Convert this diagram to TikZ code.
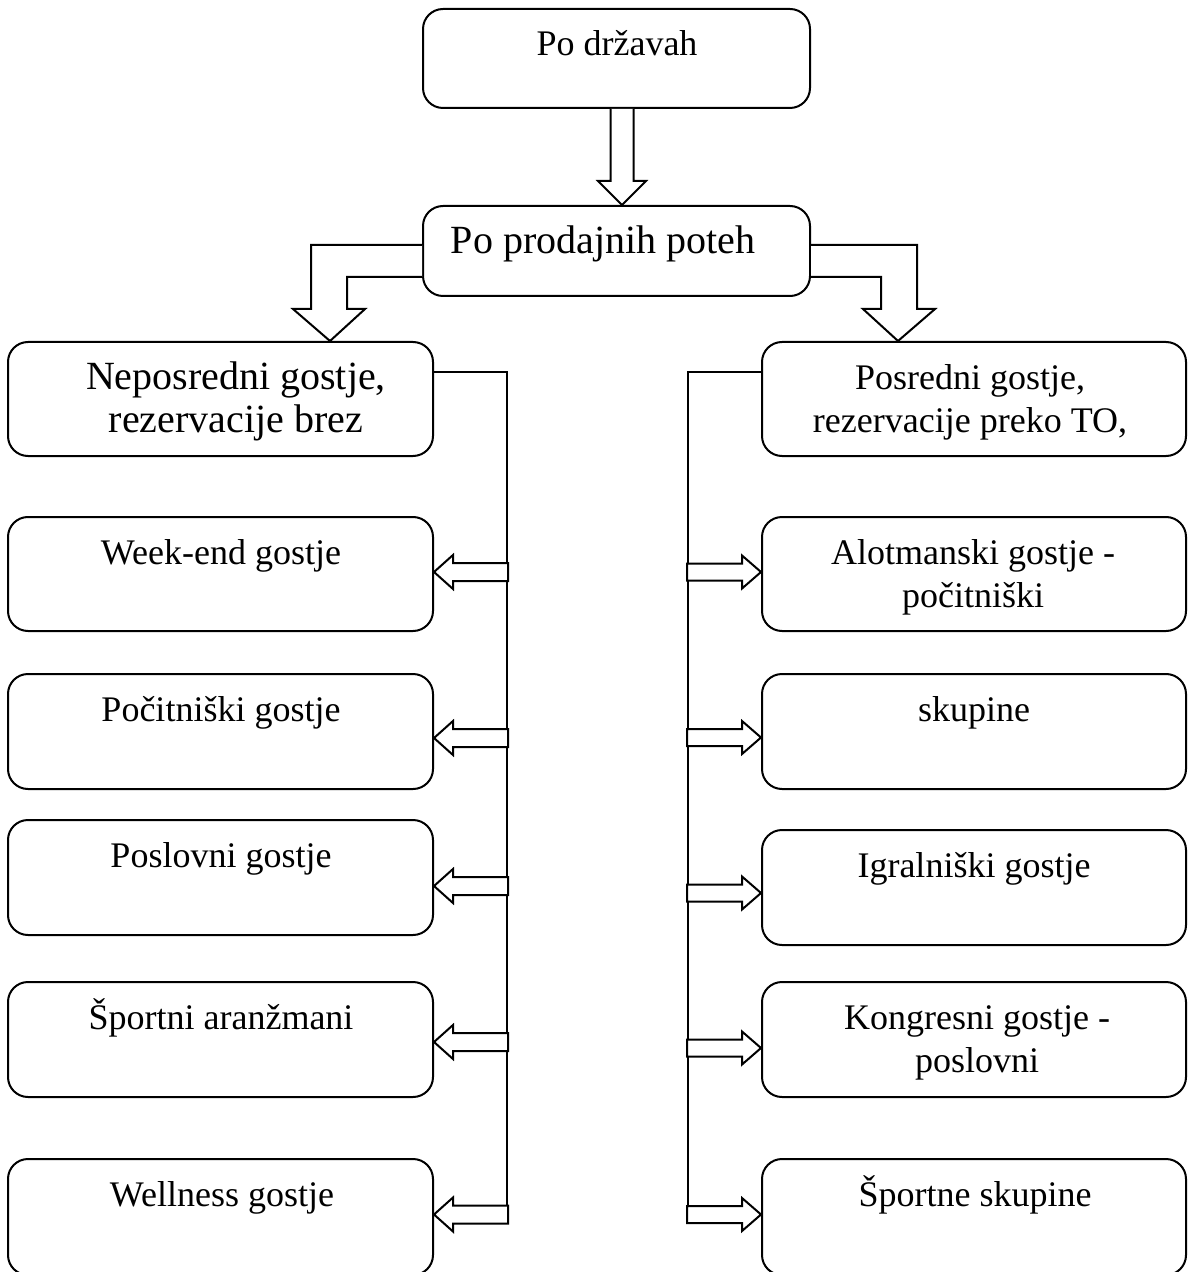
\documentclass[tikz,border=0pt]{standalone}
\usepackage{fontspec}
\setmainfont{Liberation Serif}
\usetikzlibrary{calc}
% first-line strut: the text node's north edge lies 18pt above the first baseline
\newcommand\fl{\rule{0pt}{18pt}}
\begin{document}
\begin{tikzpicture}[x=0.5pt,y=-0.5pt,
  box/.style={draw, line width=1pt, rounded corners=10pt, inner sep=0pt},
  lbox/.style={box, minimum width=212.5pt},
  rbox/.style={box, minimum width=212pt},
  lbl/.style={anchor=north, inner sep=0pt, align=center,
              font=\fontsize{18}{21.5}\selectfont},
  biglbl/.style={lbl, font=\fontsize{20}{21.5}\selectfont},
  barrow/.style={draw, line width=1pt, fill=white, line join=miter},
  wire/.style={draw, line width=1pt}]
\useasboundingbox (0,0) rectangle (1188,1272);
\clip (0,0) rectangle (1188,1272);

% top level boxes
\node[box, minimum width=193.5pt, minimum height=49.5pt] (t0) at (616.5,58.5) {};
\node[box, minimum width=193.5pt, minimum height=45pt]   (t1) at (616.5,251) {};
\node[lbl]    (t0x) at (617,19) {\fl Po državah};
\node[biglbl] (t1x) at (603,217) {\fl Po prodajnih poteh};

% left column
\node[lbox, minimum height=57pt]   (l1) at (220.5,399)  {};
\node[lbox, minimum height=57pt]   (l2) at (220.5,574)  {};
\node[lbox, minimum height=57.5pt] (l3) at (220.5,731.5){};
\node[lbox, minimum height=57.5pt] (l4) at (220.5,877.5){};
\node[lbox, minimum height=57.5pt] (l5) at (220.5,1039.5){};
\node[lbox, minimum height=58pt]   (l6) at (220.5,1217) {};
\node[biglbl] (l1x) at (236,353)  {\fl Neposredni gostje,\\rezervacije brez};
\node[lbl] (l2x) at (221,528)  {\fl Week-end gostje};
\node[lbl] (l3x) at (221,685)  {\fl Počitniški gostje};
\node[lbl] (l4x) at (221,831)  {\fl Poslovni gostje};
\node[lbl] (l5x) at (221,993)  {\fl Športni aranžmani};
\node[lbl] (l6x) at (222,1170) {\fl Wellness gostje};

% right column
\node[rbox, minimum height=57pt]   (r1) at (974,399)   {};
\node[rbox, minimum height=57pt]   (r2) at (974,574)   {};
\node[rbox, minimum height=57.5pt] (r3) at (974,731.5) {};
\node[rbox, minimum height=57.5pt] (r4) at (974,887.5) {};
\node[rbox, minimum height=57.5pt] (r5) at (974,1039.5){};
\node[rbox, minimum height=58pt]   (r6) at (974,1217)  {};
\node[lbl] (r1x) at (970,353)  {\fl Posredni gostje,\\rezervacije preko TO,};
\node[lbl] (r2x) at (973,528)  {\fl Alotmanski gostje -\\počitniški};
\node[lbl] (r3x) at (974,685)  {\fl skupine};
\node[lbl] (r4x) at (974,841)  {\fl Igralniški gostje};
\node[lbl] (r5x) at (977,993)  {\fl Kongresni gostje -\\poslovni};
\node[lbl] (r6x) at (975,1170) {\fl Športne skupine};

% block arrow from the first to the second level
\draw[barrow] ($(t0.south)+(-6,0)$) -- ($(t0.south)+(-6,72)$)
  -- ($(t0.south)+(-18.5,72)$) -- (t1.north -| 622,0)
  -- ($(t0.south)+(29.5,72)$) -- ($(t0.south)+(17,72)$)
  -- ($(t0.south)+(17,0)$);

% bent block arrows to the two branches
\draw[barrow] ($(t1.west)+(0,-6)$) -- ($(t1.west)+(-111,-6)$)
  -- ($(t1.west)+(-111,58)$) -- ($(t1.west)+(-129,58)$)
  -- ($(l1.north)+(109.5,0)$)
  -- ($(t1.west)+(-57,58)$) -- ($(t1.west)+(-75,58)$)
  -- ($(t1.west)+(-75,26)$) -- ($(t1.west)+(0,26)$);
\draw[barrow] ($(t1.east)+(0,-6)$) -- ($(t1.east)+(106,-6)$)
  -- ($(t1.east)+(106,58)$) -- ($(t1.east)+(124,58)$)
  -- ($(r1.north)+(-76,0)$)
  -- ($(t1.east)+(52,58)$) -- ($(t1.east)+(70,58)$)
  -- ($(t1.east)+(70,26)$) -- ($(t1.east)+(0,26)$);

% branch lines
\coordinate (lend) at (507,1223);
\coordinate (rend) at (688,1223);
\draw[wire] ($(l1.east)+(0,-27)$) -- (lend |- 0,372) -- (lend);
\draw[wire] ($(r1.west)+(0,-27)$) -- (rend |- 0,372) -- (rend);

% small block arrows into the category boxes
\foreach \n/\c in {l2/572, l3/738, l4/886, l5/1042, l6/1214.5}
  \draw[barrow] (\n.east |- 0,\c) -- ++(19,-17) -- ++(0,8) -- ++(55,0)
    -- ++(0,18) -- ++(-55,0) -- ++(0,8) -- cycle;
\foreach \n/\c in {r2/572, r3/737.5, r4/893, r5/1048, r6/1214.5}
  \draw[barrow] (\n.west |- 0,\c) -- ++(-19,-16.5) -- ++(0,8) -- ++(-55,0)
    -- ++(0,17) -- ++(55,0) -- ++(0,8) -- cycle;
\end{tikzpicture}
\end{document}
